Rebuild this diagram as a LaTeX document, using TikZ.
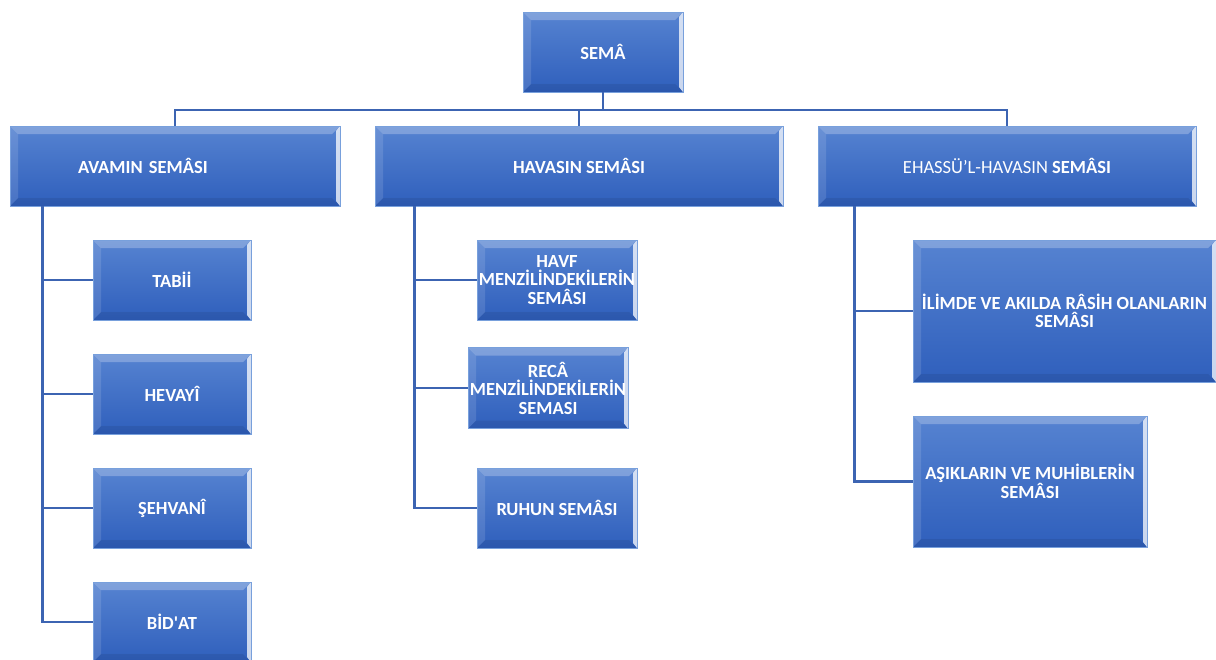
\documentclass[tikz,border=0pt]{standalone}
\usepackage{fontspec}
\setmainfont{Carlito}
\definecolor{boxtop}{RGB}{86,131,209}
\definecolor{boxbot}{RGB}{47,95,188}
\definecolor{boxedge}{RGB}{120,160,220}
\definecolor{linkblue}{RGB}{60,100,178}

\tikzset{
	semabox/.style={rectangle, inner sep=4pt, text=white, align=center,
		font=\fontsize{18.5}{18.5}\selectfont\bfseries,
		top color=boxtop, bottom color=boxbot, draw=boxedge, line width=0.8pt,
		path picture={
			\fill[white, opacity=0.25] (path picture bounding box.north west) -- (path picture bounding box.north east)
				-- ([xshift=-8pt,yshift=-8pt]path picture bounding box.north east) -- ([xshift=8pt,yshift=-8pt]path picture bounding box.north west) -- cycle;
			\fill[white, opacity=0.12] (path picture bounding box.north west) -- ([xshift=8pt,yshift=-8pt]path picture bounding box.north west)
				-- ([xshift=8pt,yshift=8pt]path picture bounding box.south west) -- (path picture bounding box.south west) -- cycle;
			\fill[black, opacity=0.08] (path picture bounding box.south west) -- (path picture bounding box.south east)
				-- ([xshift=-8pt,yshift=8pt]path picture bounding box.south east) -- ([xshift=8pt,yshift=8pt]path picture bounding box.south west) -- cycle;
			\fill[white, opacity=0.75] (path picture bounding box.north east) -- ([xshift=-4pt,yshift=-5pt]path picture bounding box.north east)
				-- ([xshift=-4pt,yshift=5pt]path picture bounding box.south east) -- (path picture bounding box.south east) -- cycle;
		}},
	link/.style={draw=linkblue, line width=2.8pt},
}

\begin{document}
\begin{tikzpicture}[x=1pt,y=-1pt]
	\useasboundingbox (0,0) rectangle (1216,659);

	% top
	\node[semabox, minimum width=160, minimum height=80] (sema) at (603,52) {SEMÂ};

	% first row
	\node[semabox, minimum width=330, minimum height=80, text width=322, align=left] (avam) at (175,166) {\hspace*{64pt}AVAMIN SEMÂSI};
	\node[semabox, minimum width=408, minimum height=80] (havas) at (579,166) {HAVASIN SEMÂSI};
	\node[semabox, minimum width=378, minimum height=80] (ehass) at (1007,166) {\mdseries EHASSÜ’L-HAVASIN \bfseries SEMÂSI};

	% left column
	\node[semabox, minimum width=158, minimum height=80] (tabii) at (172,280) {TABİİ};
	\node[semabox, minimum width=158, minimum height=80] (hevayi) at (172,394) {HEVAYÎ};
	\node[semabox, minimum width=158, minimum height=80] (sehvani) at (172,508) {ŞEHVANÎ};
	\node[semabox, minimum width=158, minimum height=80] (bidat) at (172,622) {BİD\textquotesingle AT};

	% middle column
	\node[semabox, inner xsep=0pt, minimum width=160, minimum height=80] (havf) at (557,280) {HAVF\\MENZİLİNDEKİLERİN\\SEMÂSI};
	\node[semabox, inner xsep=0pt, minimum width=160, minimum height=81] (reca) at (548,388) {RECÂ\\MENZİLİNDEKİLERİN\\SEMASI};
	\node[semabox, minimum width=160, minimum height=80] (ruhun) at (557,508) {RUHUN SEMÂSI};

	% right column
	\node[semabox, minimum width=303, minimum height=142] (ilim) at (1064.5,311) {İLİMDE VE AKILDA RÂSİH OLANLARIN\\SEMÂSI};
	\node[semabox, minimum width=234, minimum height=131] (asik) at (1030,481.5) {AŞIKLARIN VE MUHİBLERİN\\SEMÂSI};

	% connectors
	\coordinate (bus) at (0,110);
	\draw[link] (sema.south) |- (avam.north |- bus) -- (avam.north);
	\draw[link] (sema.south) |- (havas.north |- bus) -- (havas.north);
	\draw[link] (sema.south) |- (ehass.north |- bus) -- (ehass.north);

	\coordinate (avamtrunk) at ([xshift=33pt]avam.south west);
	\draw[link] (avamtrunk) |- (tabii.west);
	\draw[link] (avamtrunk) |- (hevayi.west);
	\draw[link] (avamtrunk) |- (sehvani.west);
	\draw[link] (avamtrunk) |- (bidat.west);

	\coordinate (havastrunk) at ([xshift=40pt]havas.south west);
	\draw[link] (havastrunk) |- (havf.west);
	\draw[link] (havastrunk) |- (reca.west);
	\draw[link] (havastrunk) |- (ruhun.west);

	\coordinate (ehasstrunk) at ([xshift=37pt]ehass.south west);
	\draw[link] (ehasstrunk) |- (ilim.west);
	\draw[link] (ehasstrunk) |- (asik.west);
\end{tikzpicture}
\end{document}
